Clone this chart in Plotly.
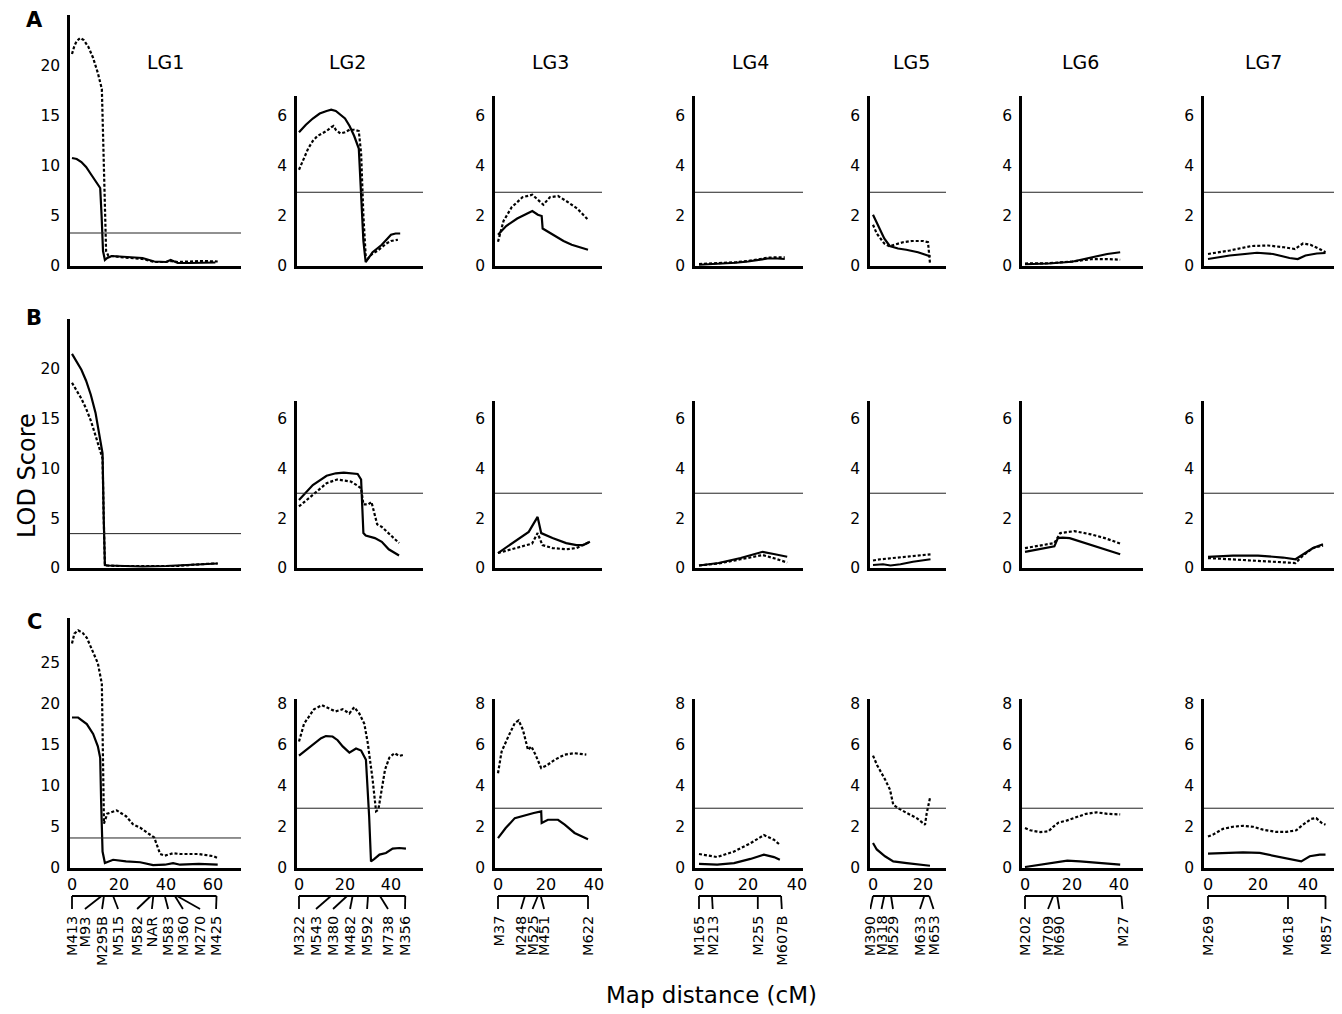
import plotly.graph_objects as go

# page is drawn with an 8px body margin, so the figure is sized to fit the window
OFF = 8
FW, FH = 1342 - OFF, 1014 - OFF
FONT = "'DejaVu Sans', Verdana, sans-serif"


def PX(x):
    return (x - OFF) / FW


def PY(y):
    return 1 - (y - OFF) / FH


groups = ["LG1", "LG2", "LG3", "LG4", "LG5", "LG6", "LG7"]
panels = ["A", "B", "C"]

# ---------------- Row A ----------------
A_LG1_sx = [0, 2, 4, 6, 8, 10, 12, 12.6, 13.2, 14, 15, 17, 20, 25, 30, 35, 40, 42, 45, 50, 55, 61]
A_LG1_sy = [10.8, 10.7, 10.4, 9.9, 9.2, 8.5, 7.8, 5.0, 1.5, 0.6, 0.8, 1.0, 0.95, 0.85, 0.8, 0.45, 0.4, 0.6, 0.3, 0.3, 0.3, 0.35]
A_LG1_dx = [0, 1, 2, 3.5, 5, 7, 9, 11, 12.7, 13.5, 14.5, 15.5, 17, 20, 25, 30, 35, 40, 42, 45, 50, 55, 62]
A_LG1_dy = [21.2, 22.0, 22.5, 22.8, 22.6, 21.9, 20.8, 19.3, 17.7, 9.0, 1.5, 1.0, 1.0, 0.9, 0.8, 0.7, 0.4, 0.4, 0.5, 0.4, 0.45, 0.5, 0.45]

A_LG2_sx = [0, 3, 6, 9, 12, 14, 16, 18, 20, 22, 24, 26, 27, 28, 29, 30, 32, 34, 36, 38, 40, 42, 44]
A_LG2_sy = [5.35, 5.65, 5.9, 6.1, 6.2, 6.25, 6.2, 6.05, 5.9, 5.6, 5.2, 4.7, 3.0, 1.0, 0.15, 0.3, 0.55, 0.7, 0.85, 1.05, 1.25, 1.3, 1.3]
A_LG2_dx = [0, 2, 4, 6, 8, 10, 12, 14, 15, 16, 18, 20, 22, 24, 26, 27, 28, 29, 30, 32, 34, 36, 38, 40, 42, 43]
A_LG2_dy = [3.85, 4.3, 4.7, 5.0, 5.2, 5.3, 5.4, 5.55, 5.6, 5.45, 5.3, 5.35, 5.45, 5.45, 5.4, 4.5, 2.0, 0.4, 0.3, 0.5, 0.6, 0.75, 0.9, 1.0, 1.05, 1.05]

A_LG3_sx = [0, 3.4, 8, 11.4, 14.3, 16.6, 18.2, 18.6, 22.7, 27.3, 30.7, 34, 37.5]
A_LG3_sy = [1.25, 1.6, 1.9, 2.05, 2.2, 2.05, 2.0, 1.5, 1.25, 1.0, 0.85, 0.75, 0.65]
A_LG3_dx = [0, 2.3, 5.7, 10.2, 14.3, 15.9, 18.9, 21.6, 25, 28.4, 33, 37.5]
A_LG3_dy = [0.97, 1.8, 2.35, 2.75, 2.85, 2.7, 2.45, 2.75, 2.8, 2.6, 2.3, 1.85]

A_LG4_sx = [0, 5, 10, 15, 20, 25, 28, 32, 35]
A_LG4_sy = [0.05, 0.07, 0.1, 0.13, 0.18, 0.25, 0.3, 0.3, 0.28]
A_LG4_dx = [0, 5, 10, 15, 20, 25, 28, 32, 35]
A_LG4_dy = [0.08, 0.1, 0.12, 0.15, 0.2, 0.28, 0.33, 0.35, 0.35]

A_LG5_sx = [0, 2, 4.5, 6.7, 10, 13.3, 18, 21, 23]
A_LG5_sy = [2.05, 1.6, 1.1, 0.8, 0.7, 0.65, 0.55, 0.45, 0.38]
A_LG5_dx = [0, 1.5, 4.5, 6.7, 8.5, 12, 15.5, 20, 22, 22.8]
A_LG5_dy = [1.65, 1.3, 0.9, 0.78, 0.85, 0.95, 1.0, 1.0, 0.95, 0.1]

A_LG6_sx = [0, 10, 20, 28, 35, 40.5]
A_LG6_sy = [0.07, 0.1, 0.17, 0.33, 0.48, 0.55]
A_LG6_dx = [0, 10, 20, 28, 35, 40.5]
A_LG6_dy = [0.1, 0.11, 0.18, 0.27, 0.28, 0.25]

A_LG7_sx = [0, 8.7, 19.6, 26, 32.6, 35.9, 39, 43.5, 47]
A_LG7_sy = [0.28, 0.42, 0.53, 0.48, 0.32, 0.28, 0.42, 0.5, 0.52]
A_LG7_dx = [0, 8.7, 17.4, 24, 30.4, 34.8, 38, 41, 44.6, 47]
A_LG7_dy = [0.48, 0.62, 0.8, 0.82, 0.75, 0.68, 0.9, 0.85, 0.68, 0.55]

# ---------------- Row B ----------------
B_LG1_sx = [0, 2, 4, 6, 8, 10, 12, 13, 13.5, 14, 15, 20, 30, 40, 45, 50, 55, 60, 62]
B_LG1_sy = [21.5, 20.7, 19.9, 18.8, 17.4, 15.6, 13.0, 11.5, 5.0, 0.3, 0.25, 0.2, 0.15, 0.2, 0.25, 0.35, 0.4, 0.45, 0.45]
B_LG1_dx = [0, 2, 4, 6, 8, 10, 12, 13, 13.5, 14, 15, 20, 30, 40, 45, 50, 55, 60, 62]
B_LG1_dy = [18.6, 17.8, 17.0, 16.0, 14.8, 13.3, 11.6, 11.0, 5.0, 0.3, 0.25, 0.2, 0.2, 0.15, 0.2, 0.3, 0.4, 0.45, 0.45]

B_LG2_sx = [0, 6, 12, 16, 19.5, 22.5, 25.5, 27, 28, 29, 33, 36, 39, 43.5]
B_LG2_sy = [2.73, 3.33, 3.7, 3.8, 3.83, 3.8, 3.77, 3.55, 1.4, 1.3, 1.2, 1.05, 0.75, 0.5]
B_LG2_dx = [0, 6, 12, 16.5, 22.5, 25.5, 27, 28, 30, 31.5, 34, 36, 39, 43.5]
B_LG2_dy = [2.47, 2.93, 3.4, 3.55, 3.47, 3.3, 3.2, 2.55, 2.55, 2.65, 1.75, 1.65, 1.4, 1.0]

B_LG3_sx = [0, 12.8, 16.5, 18, 22.7, 28.4, 32.7, 35.5, 38.3]
B_LG3_sy = [0.6, 1.45, 2.05, 1.4, 1.2, 1.0, 0.92, 0.92, 1.05]
B_LG3_dx = [0, 10, 14.2, 16.5, 18.5, 22.7, 28.4, 32.7, 37, 38.3]
B_LG3_dy = [0.6, 0.88, 0.98, 1.4, 0.92, 0.8, 0.75, 0.8, 1.0, 1.05]

B_LG4_sx = [0, 8, 17, 24, 26, 31, 36]
B_LG4_sy = [0.1, 0.2, 0.4, 0.6, 0.65, 0.55, 0.45]
B_LG4_dx = [0, 8, 17, 24, 26, 31, 36]
B_LG4_dy = [0.1, 0.18, 0.35, 0.5, 0.52, 0.38, 0.22]

B_LG5_sx = [0, 4, 7, 11, 16, 20, 23]
B_LG5_sy = [0.12, 0.15, 0.1, 0.15, 0.25, 0.3, 0.35]
B_LG5_dx = [0, 3, 8, 14, 19, 23]
B_LG5_dy = [0.3, 0.35, 0.4, 0.45, 0.5, 0.55]

B_LG6_sx = [0, 6, 12.5, 14, 16, 19, 27, 34, 40.5]
B_LG6_sy = [0.65, 0.75, 0.87, 1.2, 1.22, 1.2, 0.95, 0.75, 0.55]
B_LG6_dx = [0, 6, 12.5, 15, 18, 21, 28, 34, 40.5]
B_LG6_dy = [0.8, 0.9, 1.0, 1.4, 1.45, 1.48, 1.35, 1.2, 0.98]

B_LG7_sx = [0, 10, 20, 30, 35, 38, 42, 46]
B_LG7_sy = [0.45, 0.5, 0.5, 0.42, 0.35, 0.55, 0.8, 0.95]
B_LG7_dx = [0, 10, 20, 30, 35, 38, 42, 46]
B_LG7_dy = [0.4, 0.35, 0.3, 0.25, 0.2, 0.5, 0.8, 0.9]

# ---------------- Row C ----------------
C_LG1_sx = [0, 2.6, 6.3, 9, 11, 12, 12.4, 13, 14, 15, 17.5, 23, 29, 34.5, 39.5, 43, 46, 54, 62]
C_LG1_sy = [18.3, 18.3, 17.5, 16.3, 14.8, 13.4, 8.0, 2.0, 0.6, 0.7, 1.0, 0.8, 0.7, 0.35, 0.4, 0.6, 0.4, 0.5, 0.4]
C_LG1_dx = [0, 1, 2.6, 4.5, 6.3, 9, 11, 12.7, 13.3, 13.6, 15, 19, 23, 26, 29, 32, 35, 37.5, 39.5, 43, 46, 54, 60, 62]
C_LG1_dy = [27.3, 28.5, 28.9, 28.6, 28.0, 26.2, 24.9, 22.4, 12.0, 5.4, 6.6, 7.0, 6.3, 5.3, 4.9, 4.3, 3.7, 1.7, 1.5, 1.8, 1.7, 1.7, 1.45, 1.2]

C_LG2_sx = [0, 5.2, 9.6, 11.7, 14.6, 16.8, 19, 21.9, 24.8, 27, 29.1, 30.5, 31.3, 32.8, 35, 37.8, 40.7, 43.6, 46.5]
C_LG2_sy = [5.45, 5.9, 6.3, 6.4, 6.38, 6.2, 5.9, 5.6, 5.8, 5.7, 5.25, 2.5, 0.32, 0.44, 0.65, 0.73, 0.94, 0.97, 0.94]
C_LG2_dx = [0, 2.2, 6.5, 10, 13.8, 15.9, 19, 21.9, 24, 26.2, 28.4, 29.9, 32, 33.5, 34.5, 36, 37.4, 39.3, 41.5, 43.6, 45.8]
C_LG2_dy = [6.14, 7.0, 7.7, 7.9, 7.7, 7.6, 7.7, 7.5, 7.8, 7.5, 7.0, 6.06, 4.3, 2.75, 2.83, 3.8, 4.77, 5.36, 5.57, 5.44, 5.5]

C_LG3_sx = [0, 3.2, 7, 11.4, 14.9, 18, 18.2, 20.8, 25, 27.8, 31.9, 37.5]
C_LG3_sy = [1.45, 1.94, 2.42, 2.58, 2.67, 2.75, 2.18, 2.34, 2.34, 2.1, 1.7, 1.4]
C_LG3_dx = [0, 1.5, 4.3, 7, 8.6, 10.4, 12.5, 13.9, 15.6, 18, 20.1, 23.6, 27.8, 31.9, 36.8]
C_LG3_dy = [4.6, 5.65, 6.38, 7.03, 7.16, 6.7, 5.73, 5.9, 5.5, 4.85, 4.96, 5.25, 5.5, 5.57, 5.5]

C_LG4_sx = [0, 7.4, 14.3, 21, 26.5, 30.6, 33]
C_LG4_sy = [0.2, 0.16, 0.24, 0.44, 0.65, 0.53, 0.4]
C_LG4_dx = [0, 3.5, 7.4, 14.3, 21, 26.5, 30.6, 33]
C_LG4_dy = [0.68, 0.6, 0.53, 0.8, 1.2, 1.6, 1.37, 1.13]

C_LG5_sx = [0, 1.5, 4.8, 8.1, 13.5, 18.8, 22.8]
C_LG5_sy = [1.21, 0.9, 0.57, 0.32, 0.24, 0.16, 0.11]
C_LG5_dx = [0, 1.6, 4.8, 6.8, 8.1, 10.1, 13.5, 17.5, 20.8, 21.5, 22.8]
C_LG5_dy = [5.45, 5.0, 4.3, 3.8, 3.07, 2.9, 2.67, 2.42, 2.1, 2.67, 3.4]

C_LG6_sx = [0, 3.6, 8, 14, 18, 23.4, 31.9, 40.5]
C_LG6_sy = [0.05, 0.11, 0.21, 0.32, 0.36, 0.32, 0.24, 0.16]
C_LG6_dx = [0, 2.2, 6.6, 10, 12, 14.2, 17.7, 22, 26, 30.5, 35, 40.5]
C_LG6_dy = [1.94, 1.83, 1.74, 1.78, 2.0, 2.2, 2.3, 2.47, 2.63, 2.7, 2.63, 2.6]

C_LG7_sx = [0, 6, 14, 20.7, 27.3, 34, 37.3, 40.7, 44.7, 47]
C_LG7_sy = [0.7, 0.73, 0.76, 0.73, 0.57, 0.4, 0.32, 0.57, 0.65, 0.65]
C_LG7_dx = [0, 2, 6, 10, 14, 18, 22, 27.3, 31.3, 35.3, 38, 41.3, 43.3, 45.3, 47]
C_LG7_dy = [1.53, 1.62, 1.9, 2.0, 2.05, 2.0, 1.86, 1.75, 1.75, 1.83, 2.1, 2.38, 2.42, 2.2, 2.1]

# significance thresholds (LOD)
thr_A = [3.3, 2.95, 2.95, 2.95, 2.95, 2.95, 2.95]
thr_B = [3.45, 3.0, 3.0, 3.0, 3.0, 3.0, 3.0]
thr_C = [3.65, 2.9, 2.9, 2.9, 2.9, 2.9, 2.9]

# y tick values
yt_LG1_AB = [0, 5, 10, 15, 20]
yt_LG1_C = [0, 5, 10, 15, 20, 25]
yt_AB = [0, 2, 4, 6]
yt_C = [0, 2, 4, 6, 8]
# x tick values (row C)
xt_cols = [[0, 20, 40, 60], [0, 20, 40], [0, 20, 40], [0, 20, 40], [0, 20], [0, 20, 40], [0, 20, 40]]

# marker maps: names, positions (cM), label positions (cM)
mk_LG1 = ["M413", "M93", "M295B", "M515", "M582", "NAR", "M583", "M360", "M270", "M425"]
mp_LG1 = [0, 12.6, 13.6, 17.5, 33.5, 34.6, 39.5, 43.8, 44.7, 61.5]
ml_LG1 = [0, 5.5, 12.8, 19.6, 27.7, 34.0, 40.9, 47.2, 54.5, 61.3]
mk_LG2 = ["M322", "M543", "M380", "M482", "M592", "M738", "M356"]
mp_LG2 = [0, 13.9, 20.9, 23.3, 30, 35.2, 46.2]
ml_LG2 = [0, 7.4, 14.8, 22.2, 29.6, 38.7, 46.1]
mk_LG3 = ["M37", "M248", "M525", "M451", "M622"]
mp_LG3 = [0, 11.2, 16.6, 17.8, 37.5]
ml_LG3 = [0, 9.6, 14.4, 19.2, 37.5]
mk_LG4 = ["M165", "M213", "M255", "M607B"]
mp_LG4 = [0, 5.3, 24, 33.5]
ml_LG4 = [0, 5.6, 24, 33.8]
mk_LG5 = ["M390", "M318", "M529", "M633", "M653"]
mp_LG5 = [0, 4.5, 7.2, 20.5, 22.5]
ml_LG5 = [-1.1, 3.4, 8.0, 18.8, 24.2]
mk_LG6 = ["M202", "M709", "M690", "M27"]
mp_LG6 = [0, 12.0, 13.7, 41.0]
ml_LG6 = [0, 9.8, 14.6, 41.5]
mk_LG7 = ["M269", "M618", "M857"]
mp_LG7 = [0, 32, 47]
ml_LG7 = [0, 32, 47]

# ---------------- assemble ----------------
series = {
    "A": [(A_LG1_sx, A_LG1_sy, A_LG1_dx, A_LG1_dy), (A_LG2_sx, A_LG2_sy, A_LG2_dx, A_LG2_dy),
          (A_LG3_sx, A_LG3_sy, A_LG3_dx, A_LG3_dy), (A_LG4_sx, A_LG4_sy, A_LG4_dx, A_LG4_dy),
          (A_LG5_sx, A_LG5_sy, A_LG5_dx, A_LG5_dy), (A_LG6_sx, A_LG6_sy, A_LG6_dx, A_LG6_dy),
          (A_LG7_sx, A_LG7_sy, A_LG7_dx, A_LG7_dy)],
    "B": [(B_LG1_sx, B_LG1_sy, B_LG1_dx, B_LG1_dy), (B_LG2_sx, B_LG2_sy, B_LG2_dx, B_LG2_dy),
          (B_LG3_sx, B_LG3_sy, B_LG3_dx, B_LG3_dy), (B_LG4_sx, B_LG4_sy, B_LG4_dx, B_LG4_dy),
          (B_LG5_sx, B_LG5_sy, B_LG5_dx, B_LG5_dy), (B_LG6_sx, B_LG6_sy, B_LG6_dx, B_LG6_dy),
          (B_LG7_sx, B_LG7_sy, B_LG7_dx, B_LG7_dy)],
    "C": [(C_LG1_sx, C_LG1_sy, C_LG1_dx, C_LG1_dy), (C_LG2_sx, C_LG2_sy, C_LG2_dx, C_LG2_dy),
          (C_LG3_sx, C_LG3_sy, C_LG3_dx, C_LG3_dy), (C_LG4_sx, C_LG4_sy, C_LG4_dx, C_LG4_dy),
          (C_LG5_sx, C_LG5_sy, C_LG5_dx, C_LG5_dy), (C_LG6_sx, C_LG6_sy, C_LG6_dx, C_LG6_dy),
          (C_LG7_sx, C_LG7_sy, C_LG7_dx, C_LG7_dy)],
}
thresholds = {"A": thr_A, "B": thr_B, "C": thr_C}
markers = [(mk_LG1, mp_LG1, ml_LG1), (mk_LG2, mp_LG2, ml_LG2), (mk_LG3, mp_LG3, ml_LG3),
           (mk_LG4, mp_LG4, ml_LG4), (mk_LG5, mp_LG5, ml_LG5), (mk_LG6, mp_LG6, ml_LG6),
           (mk_LG7, mp_LG7, ml_LG7)]

# layout geometry (window pixels)
col_px = [(70, 241), (297, 423), (495, 602), (695, 803), (870, 946), (1022, 1143), (1204, 1340)]
zero_px = [72, 299, 498, 699, 873, 1025, 1208]
px_per_cm = [2.35, 2.3, 2.4, 2.45, 2.5, 2.35, 2.5]
row_px = {  # (bottom, top LG1, top others)
    "A": (266, 15, 96),
    "B": (568, 319, 401),
    "C": (868, 618, 699),
}
yrng = {"A": (25.1, 6.8), "B": (25.0, 6.7), "C": (30.4, 8.2)}

fig = go.Figure()
layout = dict(
    width=FW, height=FH, margin=dict(l=0, r=0, t=0, b=0, autoexpand=False),
    paper_bgcolor="white", plot_bgcolor="white", showlegend=False,
    font=dict(family=FONT, color="black"),
)
shapes, annotations = [], []

for r, pn in enumerate(panels):
    bot, top1, topo = row_px[pn]
    for c in range(7):
        idx = r * 7 + c + 1
        sfx = "" if idx == 1 else str(idx)
        xa, ya = "x" + sfx, "y" + sfx
        sx, sy, dx, dy = series[pn][c]
        fig.add_trace(go.Scatter(x=sx, y=sy, mode="lines", xaxis=xa, yaxis=ya,
                                 line=dict(color="black", width=2.2), hoverinfo="skip"))
        fig.add_trace(go.Scatter(x=dx, y=dy, mode="lines", xaxis=xa, yaxis=ya,
                                 line=dict(color="black", width=2.2, dash="3px,2px"), hoverinfo="skip"))
        x0, x1 = col_px[c]
        xr = [(x0 - zero_px[c]) / px_per_cm[c], (x1 - zero_px[c]) / px_per_cm[c]]
        top = top1 if c == 0 else topo
        ymax = yrng[pn][0] if c == 0 else yrng[pn][1]
        if c == 0:
            ytv = yt_LG1_C if pn == "C" else yt_LG1_AB
        else:
            ytv = yt_C if pn == "C" else yt_AB
        layout["xaxis" + sfx] = dict(
            domain=[PX(x0), PX(x1)], range=xr, anchor=ya, showgrid=False, zeroline=False,
            showline=True, linecolor="black", linewidth=2.5, ticks="",
            tickvals=xt_cols[c], showticklabels=(pn == "C"),
            tickfont=dict(size=16, family=FONT), fixedrange=True,
        )
        layout["yaxis" + sfx] = dict(
            domain=[PY(bot), PY(top)], range=[0, ymax], anchor=xa, showgrid=False,
            zeroline=False, showline=True, linecolor="black", linewidth=2.5, ticks="",
            tickvals=ytv, tickfont=dict(size=15.5, family=FONT), ticklabelstandoff=4,
            fixedrange=True,
        )
        shapes.append(dict(type="line", xref=xa + " domain", yref=ya, x0=0, x1=1,
                           y0=thresholds[pn][c], y1=thresholds[pn][c],
                           line=dict(color="#222", width=1)))
        if pn == "C":
            names, pos, lab = markers[c]
            ytop = PY(896)
            ybot = PY(909)
            shapes.append(dict(type="line", xref=xa, yref="paper", x0=pos[0], x1=pos[-1],
                               y0=ytop, y1=ytop, line=dict(color="black", width=2)))
            for nm, p, lp in zip(names, pos, lab):
                shapes.append(dict(type="line", xref=xa, yref="paper", x0=p, x1=lp,
                                   y0=ytop, y1=ybot, line=dict(color="black", width=1.8)))
                annotations.append(dict(x=lp, y=PY(914), xref=xa, yref="paper", text=nm,
                                        textangle=-90, showarrow=False, xanchor="center",
                                        yanchor="top", font=dict(size=14.5, family=FONT)))

# LG titles
lg_x = [165, 347, 550, 750, 912, 1080, 1263]
for g, xp in zip(groups, lg_x):
    annotations.append(dict(x=PX(xp), y=PY(62), xref="paper", yref="paper", text=g,
                            showarrow=False, xanchor="center", yanchor="middle",
                            font=dict(size=19, family=FONT)))
# panel letters
for pn, yp in zip(panels, [20, 318, 622]):
    annotations.append(dict(x=PX(34), y=PY(yp), xref="paper", yref="paper",
                            text="<b>%s</b>" % pn, showarrow=False, xanchor="center",
                            yanchor="middle", font=dict(size=21, family=FONT)))
annotations.append(dict(x=PX(27), y=PY(476), xref="paper", yref="paper", text="LOD Score",
                        textangle=-90, showarrow=False, xanchor="center", yanchor="middle",
                        font=dict(size=24, family=FONT)))
annotations.append(dict(x=PX(711), y=PY(995), xref="paper", yref="paper",
                        text="Map distance (cM)", showarrow=False, xanchor="center",
                        yanchor="middle", font=dict(size=23, family=FONT)))

layout["shapes"] = shapes
layout["annotations"] = annotations
fig.update_layout(**layout)
fig.write_html("out.html")
